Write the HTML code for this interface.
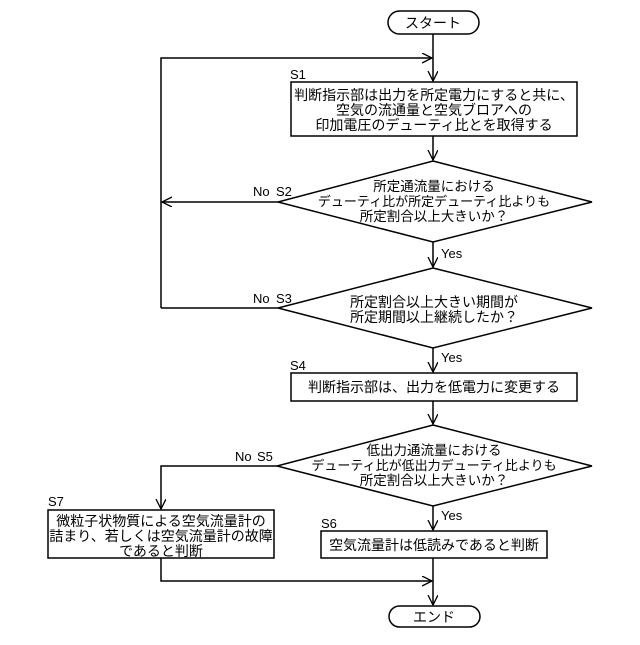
<!DOCTYPE html>
<html><head><meta charset="utf-8"><style>
html,body{margin:0;padding:0;background:#fff}
svg text{font-family:"Liberation Sans","Noto Sans CJK JP",sans-serif;fill:#000}
</style></head><body>
<svg width="640" height="640" viewBox="0 0 640 640" xmlns="http://www.w3.org/2000/svg">
<defs><marker id="a" markerWidth="12" markerHeight="12" refX="10" refY="5" orient="auto" markerUnits="userSpaceOnUse"><path d="M0,0 L10,5 L0,10" fill="none" stroke="#000" stroke-width="1.3"/></marker></defs>
<g fill="none" stroke="#000" stroke-width="1.5">
<rect x="388" y="11" width="91" height="23" rx="11.5"/>
<line x1="433" y1="34" x2="433" y2="81" marker-end="url(#a)"/>
<polyline points="161,308 161,58 432,58" marker-end="url(#a)"/>
<line x1="278" y1="202" x2="162" y2="202" marker-end="url(#a)"/>
<rect x="291" y="82" width="286" height="54"/>
<line x1="433" y1="136" x2="433" y2="160" marker-end="url(#a)"/>
<polygon points="433,161 592,202 433,242 278,202"/>
<line x1="433" y1="242" x2="433" y2="267" marker-end="url(#a)"/>
<polygon points="433,268 592,308 433,348 278,308"/>
<line x1="278" y1="308" x2="161" y2="308"/>
<line x1="433" y1="348" x2="433" y2="372" marker-end="url(#a)"/>
<rect x="291" y="373" width="286" height="28"/>
<line x1="433" y1="401" x2="433" y2="424" marker-end="url(#a)"/>
<polygon points="433,425 592,466 433,506 277,466"/>
<polyline points="277,466 161,466 161,509" marker-end="url(#a)"/>
<rect x="48" y="510" width="226" height="48"/>
<line x1="433" y1="506" x2="433" y2="530" marker-end="url(#a)"/>
<rect x="321" y="531" width="226" height="27"/>
<polyline points="161,558 161,581 432,581" marker-end="url(#a)"/>
<line x1="433" y1="558" x2="433" y2="605" marker-end="url(#a)"/>
<rect x="389" y="606" width="91" height="21" rx="10.5"/>
</g>
<g font-size="14" text-anchor="middle">
<text x="433" y="28">スタート</text>
<text x="434" y="100">判断指示部は出力を所定電力にすると共に、</text>
<text x="434" y="115">空気の流通量と空気ブロアへの</text>
<text x="434" y="130">印加電圧のデューティ比とを取得する</text>
<text x="434" y="191" font-size="13.5">所定通流量における</text>
<text x="434" y="206" font-size="13">デューティ比が所定デューティ比よりも</text>
<text x="434" y="221" font-size="13.5">所定割合以上大きいか？</text>
<text x="434" y="307">所定割合以上大きい期間が</text>
<text x="434" y="322">所定期間以上継続したか？</text>
<text x="434" y="392">判断指示部は、出力を低電力に変更する</text>
<text x="434" y="455" font-size="13.5">低出力通流量における</text>
<text x="434" y="470" font-size="13">デューティ比が低出力デューティ比よりも</text>
<text x="434" y="485" font-size="13.5">所定割合以上大きいか？</text>
<text x="161" y="526">微粒子状物質による空気流量計の</text>
<text x="161" y="541">詰まり、若しくは空気流量計の故障</text>
<text x="161" y="556">であると判断</text>
<text x="434" y="550">空気流量計は低読みであると判断</text>
<text x="434" y="622">エンド</text>
</g>
<g font-size="13">
<text x="290" y="79">S1</text>
<text x="253" y="196">No</text><text x="276" y="196">S2</text>
<text x="441" y="258">Yes</text>
<text x="253" y="303">No</text><text x="276" y="303">S3</text>
<text x="441" y="362">Yes</text>
<text x="290" y="370">S4</text>
<text x="235" y="461">No</text><text x="257" y="461">S5</text>
<text x="441" y="520">Yes</text>
<text x="48" y="506">S7</text>
<text x="321" y="528">S6</text>
</g>
</svg>
</body></html>
